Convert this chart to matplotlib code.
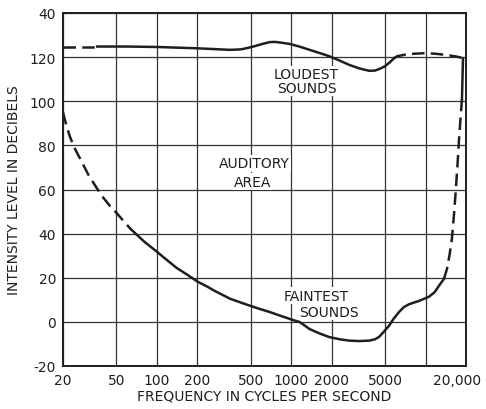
import matplotlib
matplotlib.use("Agg")
import matplotlib.pyplot as plt
import matplotlib.transforms as mtransforms

# tick positions / labels
x_ticks = [20, 50, 100, 200, 500, 1000, 2000, 5000, 10000, 20000]
x_labels = ["20", "50", "100", "200", "500", "1000", "2000", "5000", "", "20,000"]
y_ticks = [-20, 0, 20, 40, 60, 80, 100, 120, 140]
y_labels = ["-20", "0", "20", "40", "60", "80", "100", "120", "40"]

# loudest sounds (upper boundary)
loud_dash_l_f = [20, 36]
loud_dash_l_db = [124.8, 124.8]
loud_f = [36, 60, 100, 200, 350, 420, 470, 530, 580, 640, 690, 760, 830, 970, 1150, 1370, 1620,
          1920, 2300, 2700, 3200, 3800, 4200, 4600, 5000, 5400, 5830]
loud_db = [124.8, 124.8, 124.6, 124.0, 123.3, 123.5, 124.1, 124.9, 125.6, 126.3, 126.8, 126.9,
           126.6, 126.0, 124.8, 123.3, 121.9, 120.4, 118.4, 116.5, 114.9, 113.8, 113.9, 114.8,
           115.9, 117.6, 119.5]
loud_dash_r_f = [5830, 6140, 7000, 8000, 10000, 12000, 14190, 16500, 18340, 19000]
loud_dash_r_db = [119.5, 120.4, 121.1, 121.5, 121.8, 121.5, 121.0, 120.4, 119.8, 119.5]

# right hand closing edge
edge_f = [19000, 18660]
edge_db = [119.5, 101]

# faintest sounds (lower boundary)
faint_dash_l_f = [20, 21.2, 22.5, 24.5, 26.8, 31, 35.8, 40, 44.5, 50, 55, 64]
faint_dash_l_db = [95, 89, 84, 78.5, 74, 66.5, 60.5, 56.2, 52.7, 49.4, 46.5, 42]
faint_f = [64, 80, 100, 120, 140, 170, 200, 240, 270, 350, 420, 489, 580, 689, 820, 968, 1060,
           1149, 1250, 1365, 1620, 1920, 2300, 2704, 3200, 3802, 4200, 4510, 4900, 5354, 5800,
           6350, 6900, 7540, 8930, 10610, 11700, 12590, 13710]
faint_db = [42, 36.5, 31.8, 27.8, 24.5, 21.2, 18.3, 15.8, 14, 10.5, 8.8, 7.4, 5.9, 4.5, 2.9, 1.4,
            0.6, 0, -1.5, -3.2, -5.2, -6.9, -7.9, -8.5, -8.7, -8.5, -7.9, -6.8, -4.4, -1.7, 1.5,
            4.5, 6.7, 8, 9.5, 11.4, 13.5, 16.4, 19.5]
faint_dash_r_f = [13710, 14430, 15100, 15710, 16300, 16830, 17300, 17710, 18200, 18660]
faint_dash_r_db = [19.5, 24, 30.5, 37.7, 49, 60.5, 71.5, 82, 92, 101]

ink = "#1e1e1e"
dash = (0, (5, 2.5))
fig = plt.figure(figsize=(4.86, 4.10), dpi=100)
ax = fig.add_axes([63 / 486, 43 / 410, 403 / 486, 353 / 410])

ax.plot(loud_dash_l_f, loud_dash_l_db, color=ink, lw=1.8, ls=dash)
ax.plot(loud_f, loud_db, color=ink, lw=1.8)
ax.plot(loud_dash_r_f, loud_dash_r_db, color=ink, lw=1.8, ls=dash)
ax.plot(edge_f, edge_db, color=ink, lw=1.8)
ax.plot(faint_dash_l_f, faint_dash_l_db, color=ink, lw=1.8, ls=dash)
ax.plot(faint_f, faint_db, color=ink, lw=1.8)
ax.plot(faint_dash_r_f, faint_dash_r_db, color=ink, lw=1.8, ls=dash)

ax.set_xscale("log")
ax.set_xlim(20, 20000)
ax.set_ylim(-20, 140)
ax.set_xticks(x_ticks)
ax.set_xticklabels(x_labels)
ax.minorticks_off()
ax.set_yticks(y_ticks)
ax.set_yticklabels(y_labels)
ax.tick_params(length=0, labelsize=10, colors=ink, pad=5)
ax.grid(True, color="#333333", lw=0.9)
for s in ax.spines.values():
    s.set_linewidth(1.4)
    s.set_color(ink)

# pull the last frequency label in so it stays on the page
last = ax.get_xticklabels()[-1]
last.set_transform(last.get_transform() + mtransforms.ScaledTranslation(-9 / 100, 0, fig.dpi_scale_trans))

ax.set_xlabel("FREQUENCY IN CYCLES PER SECOND", fontsize=10, color=ink, labelpad=1)
ax.set_ylabel("INTENSITY LEVEL IN DECIBELS", fontsize=10, color=ink, labelpad=6)

txt = dict(fontsize=10, color=ink, ha="center", va="center",
           bbox=dict(facecolor="white", edgecolor="none", pad=1))
ax.text(1296, 112.3, "LOUDEST", **txt)
ax.text(1320, 106, "SOUNDS", **txt)
ax.text(533, 71.8, "AUDITORY", **txt)
ax.text(513, 63.6, "AREA", **txt)
ax.text(1538, 11.8, "FAINTEST", **txt)
ax.text(1920, 4.5, "SOUNDS", **txt)

fig.savefig("out.png", dpi=100)
